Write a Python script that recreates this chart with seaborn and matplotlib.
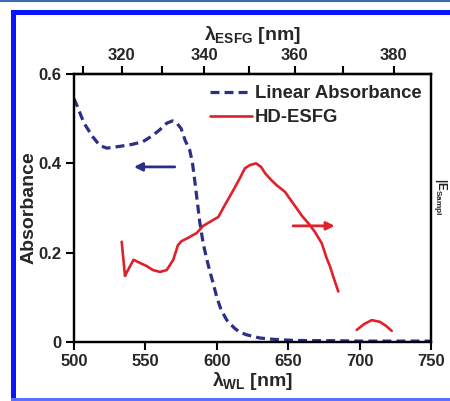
import numpy as np
import pandas as pd
import matplotlib
matplotlib.use("Agg")
import matplotlib.pyplot as plt
from matplotlib.patches import Rectangle
import seaborn as sns

# ---------------- data ----------------
abs_wl = [500, 502, 507, 513, 518, 523, 532, 540, 548, 555, 560, 565, 569, 572, 575,
          578, 581, 583, 585, 588, 590.5, 593, 595, 598, 600, 603, 607, 612, 616, 621,
          630, 640, 651, 665, 680, 700, 720, 750]
abs_val = [0.545, 0.53, 0.49, 0.46, 0.44, 0.434, 0.438, 0.442, 0.448, 0.462, 0.475, 0.49,
           0.495, 0.49, 0.478, 0.45, 0.43, 0.40, 0.35, 0.27, 0.22, 0.185, 0.16, 0.125,
           0.10, 0.072, 0.049, 0.032, 0.022, 0.016, 0.009, 0.006, 0.004, 0.003, 0.003,
           0.002, 0.002, 0.002]

esfg1_wl = [533.4, 535.7, 537.1, 541.7, 546.2, 550.9, 555.3, 560.2, 564.9, 569.5, 572.8,
            575.4, 579.8, 585.9, 590.5, 595.2, 601.1, 605.7, 611.6, 616.2, 619.7, 623.2,
            627.5, 631.0, 633.8, 638.0, 641.9, 647.8, 651.3, 656.0, 659.7, 664.1, 668.8,
            673.5, 676.9, 679.3, 681.6, 685.1]
esfg1_val = [0.2245, 0.148, 0.157, 0.184, 0.177, 0.170, 0.161, 0.157, 0.161, 0.184, 0.217,
             0.226, 0.233, 0.244, 0.260, 0.269, 0.280, 0.307, 0.340, 0.367, 0.389, 0.396,
             0.400, 0.392, 0.378, 0.363, 0.351, 0.336, 0.320, 0.299, 0.282, 0.266, 0.246,
             0.221, 0.188, 0.169, 0.146, 0.113]
esfg2_wl = [698.0, 703.1, 708.5, 714.3, 718.5, 722.5]
esfg2_val = [0.027, 0.040, 0.049, 0.045, 0.036, 0.025]

x_ticks = [500, 550, 600, 650, 700, 750]
y_ticks = [0, 0.2, 0.4, 0.6]
y_ticklabels = ["0", "0.2", "0.4", "0.6"]
top_major = [320, 340, 360, 380]
top_minor = [310, 330, 350, 370]
PUMP = 800.0

# ---------------- style ----------------
sns.set_theme(style="white")
plt.rcParams['font.family'] = ['Liberation Sans', 'DejaVu Sans']
plt.rcParams['font.weight'] = 'bold'
plt.rcParams['mathtext.fontset'] = 'custom'
plt.rcParams['mathtext.rm'] = 'Liberation Sans:bold'
plt.rcParams['mathtext.it'] = 'Liberation Sans:bold'
plt.rcParams['mathtext.bf'] = 'Liberation Sans:bold'

BLUE = "#2b2f86"
RED = "#e0202a"

W, H = 450, 401
fig = plt.figure(figsize=(W / 100, H / 100), dpi=100)
fig.patch.set_facecolor("white")

# frame decorations (figure pixels)
def px_rect(x0, y0, x1, y1, color):
    fig.patches.append(Rectangle((x0 / W, 1 - y1 / H), (x1 - x0) / W, (y1 - y0) / H,
                                 transform=fig.transFigure, color=color, zorder=0, lw=0))

px_rect(0, 0, 450, 1.5, "#3a6cb0")
px_rect(11, 10, 450, 15, "#0a14ff")
px_rect(11, 10, 16, 401, "#0a14ff")
px_rect(11, 397.5, 450, 401, "#5a70ff")

ax = fig.add_axes([74 / W, 1 - 342 / H, (431 - 74) / W, (342 - 74) / H])
ax.set_facecolor("white")

df_abs = pd.DataFrame({"wl": abs_wl, "val": abs_val})
df_e1 = pd.DataFrame({"wl": esfg1_wl, "val": esfg1_val})
df_e2 = pd.DataFrame({"wl": esfg2_wl, "val": esfg2_val})

sns.lineplot(data=df_abs, x="wl", y="val", ax=ax, color=BLUE, lw=2.3,
             label="Linear Absorbance", sort=False)
ax.lines[-1].set_dashes((2.8, 1.6))

ax2 = ax.twinx()
sns.lineplot(data=df_e1, x="wl", y="val", ax=ax2, color=RED, lw=1.9, sort=False,
             label="HD-ESFG", legend=False)
sns.lineplot(data=df_e2, x="wl", y="val", ax=ax2, color=RED, lw=1.9, sort=False,
             legend=False)

for a in (ax, ax2):
    a.set_xlim(500, 750)
    a.set_ylim(0, 0.6)

ax2.set_yticks([])
ax2.set_ylabel("")
ax.set_xticks(x_ticks)
ax.set_xticklabels([str(t) for t in x_ticks], fontsize=12, fontweight='bold')
ax.set_yticks(y_ticks)
ax.set_yticklabels(y_ticklabels, fontsize=12, fontweight='bold')
ax.tick_params(axis='both', direction='out', length=6, width=1.5, color='black',
               pad=3, left=True, bottom=True)
ax.set_xlabel(r"$\lambda_{\mathrm{WL}}$ [nm]", fontsize=14, fontweight='bold', labelpad=0)
ax.set_ylabel("Absorbance", fontsize=14, fontweight='bold', labelpad=1)

for a in (ax, ax2):
    for s in a.spines.values():
        s.set_color("black")
        s.set_linewidth(1.6)
        s.set_visible(True)

# top axis: lambda_ESFG = 1/(1/lambda_WL + 1/PUMP)
def fwd(x):
    x = np.asarray(x, dtype=float)
    with np.errstate(divide='ignore'):
        return 1.0 / (1.0 / x + 1.0 / PUMP)

def inv(y):
    y = np.asarray(y, dtype=float)
    with np.errstate(divide='ignore'):
        return 1.0 / (1.0 / y - 1.0 / PUMP)

sec = ax.secondary_xaxis('top', functions=(fwd, inv))
sec.set_xticks(top_major)
sec.set_xticklabels([str(t) for t in top_major], fontsize=12, fontweight='bold')
sec.set_xticks(top_minor, minor=True)
sec.tick_params(axis='x', which='both', direction='out', length=6, width=1.5,
                color='black', pad=2)
sec.set_xlabel(r"$\lambda_{\mathrm{ESFG}}$ [nm]", fontsize=14, fontweight='bold', labelpad=6)
sec.spines['top'].set_linewidth(1.6)

# legend
h1 = ax.lines[0]
h2 = ax2.lines[0]
leg = ax.legend([h1, h2], ["Linear Absorbance", "HD-ESFG"], loc='upper right',
                bbox_to_anchor=(1.005, 1.0), frameon=False, fontsize=13.3,
                handlelength=2.3, handletextpad=0.15, labelspacing=0.4,
                borderaxespad=0.2)
for t in leg.get_texts():
    t.set_fontweight('bold')

# arrows
ax.annotate("", xy=(540, 0.392), xytext=(572.5, 0.392),
            arrowprops=dict(arrowstyle='-|>', color=BLUE, lw=2, mutation_scale=12))
ax.annotate("", xy=(684.5, 0.26), xytext=(651.5, 0.26),
            arrowprops=dict(arrowstyle='-|>', color=RED, lw=2, mutation_scale=12))

# right-axis label
fig.text(441 / W, 1 - 178 / H, r"|E$_{\mathrm{Sampl}}$", rotation=-90, fontsize=8.5,
         fontweight='bold', ha='center', va='top', color='#222222')

fig.savefig("out.png", dpi=100, facecolor="white")
